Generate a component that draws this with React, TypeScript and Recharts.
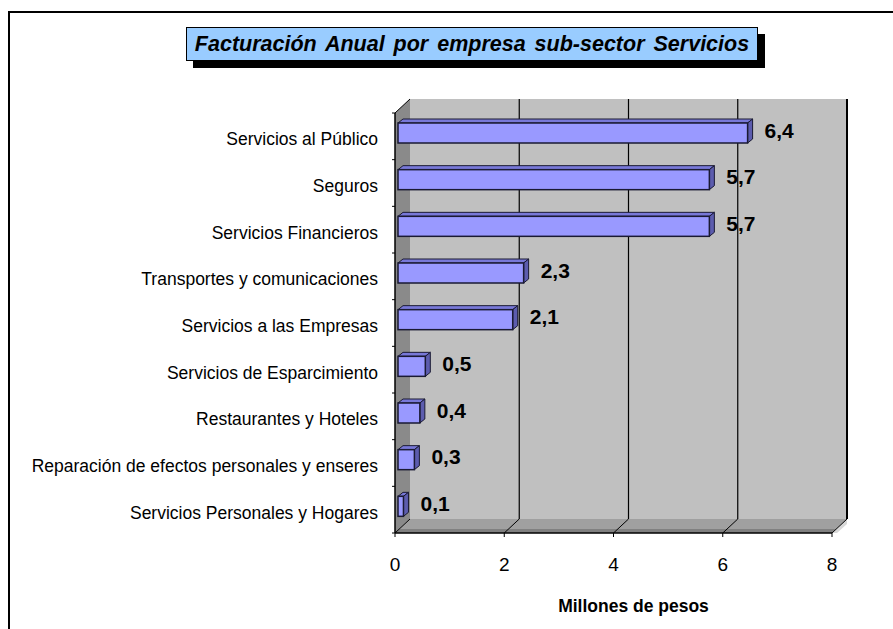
import React from "react";
import {
  BarChart,
  Bar,
  XAxis,
  YAxis,
  CartesianGrid,
  LabelList,
} from "recharts";

const categories = [
  "Servicios al Público",
  "Seguros",
  "Servicios Financieros",
  "Transportes y comunicaciones",
  "Servicios a las Empresas",
  "Servicios de Esparcimiento",
  "Restaurantes y Hoteles",
  "Reparación de efectos personales y enseres",
  "Servicios Personales y Hogares",
];

const facturacion = [6.4, 5.7, 5.7, 2.3, 2.1, 0.5, 0.4, 0.3, 0.1];

const xTicks = [0, 2, 4, 6, 8];

const data = categories.map((name, i) => ({ name, value: facturacion[i] }));

// chart geometry
const W = 883;
const H = 616;
const M = { top: 100, right: 61, bottom: 0, left: 0 };
const Y_W = 385;
const X_H = 96;
const PL = M.left + Y_W;
const PR = W - M.right;
const PT = M.top;
const PB = H - M.bottom - X_H;
// 3d depth of the walls
const DX = 15;
const DY = 14;
// 3d depth of the bars
const BD = 5;
const BDY = 4;

const FONT = "'Liberation Sans', Arial, sans-serif";

function Walls() {
  const band = (PB - PT) / categories.length;
  return (
    <svg width={W} height={H} style={{ position: "absolute", left: 0, top: 0 }}>
      <rect x={PL + DX} y={PT - DY} width={PR - PL} height={PB - PT} fill="#c0c0c0" />
      <polygon
        points={`${PL},${PT} ${PL + DX},${PT - DY} ${PL + DX},${PB - DY} ${PL},${PB}`}
        fill="#8a8a8a"
      />
      <line x1={PL} y1={PT} x2={PL + DX} y2={PT - DY} stroke="#000" />
      <polygon
        points={`${PL},${PB} ${PL + DX},${PB - DY} ${PR + DX},${PB - DY} ${PR},${PB}`}
        fill="#a0a0a0"
      />
      <polygon
        points={`${PL},${PB} ${PL + 4},${PB - 4} ${PR + 4},${PB - 4} ${PR},${PB}`}
        fill="#808080"
      />
      <polygon
        points={`${PR},${PB} ${PR + DX},${PB - DY} ${PR + DX},${PB - DY + 5} ${PR + 5},${PB}`}
        fill="#d8d8d8"
      />
      {categories.map((c, i) => (
        <line
          key={c}
          x1={PL - 3}
          x2={PL}
          y1={PT + i * band}
          y2={PT + i * band}
          stroke="#000"
        />
      ))}
      <line x1={PL - 3} x2={PL} y1={PB} y2={PB} stroke="#000" />
    </svg>
  );
}

function GridLine(props: any) {
  const { x1, y1, y2, index } = props;
  return (
    <g key={`g-${index}`}>
      {index > 0 && (
        <line
          x1={x1 + DX}
          y1={y1 - DY}
          x2={x1 + DX}
          y2={y2 - DY}
          stroke="#000"
          strokeWidth={index === xTicks.length - 1 ? 2 : 1.2}
        />
      )}
      <line x1={x1} y1={y2} x2={x1 + DX} y2={y2 - DY} stroke="#000" strokeWidth={1} />
    </g>
  );
}

function Bar3D(props: any) {
  const { x, y, width, height } = props;
  const fx = x + 3;
  const fy = y - 3;
  const fw = Math.max(width, 0);
  const fh = height;
  return (
    <g>
      <polygon
        points={`${fx},${fy} ${fx + BD},${fy - BDY} ${fx + fw + BD},${fy - BDY} ${fx + fw},${fy}`}
        fill="#7878d8"
        stroke="#1a1a33"
        strokeWidth={1}
      />
      <polygon
        points={`${fx + fw},${fy} ${fx + fw + BD},${fy - BDY} ${fx + fw + BD},${fy + fh - BDY} ${fx + fw},${fy + fh}`}
        fill="#5c5cae"
        stroke="#1a1a33"
        strokeWidth={1}
      />
      <rect x={fx} y={fy} width={fw} height={fh} fill="#9999ff" stroke="#1a1a33" strokeWidth={1.5} />
    </g>
  );
}

function ValueLabel(props: any) {
  const { x, y, width, value } = props;
  return (
    <text
      x={x + width + 20}
      y={y + 4}
      dominantBaseline="central"
      fontFamily={FONT}
      fontWeight="bold"
      fontSize={21}
      fill="#000"
    >
      {Number(value).toFixed(1).replace(".", ",")}
    </text>
  );
}

function CategoryTick(props: any) {
  const { x, y, payload } = props;
  return (
    <text
      x={x}
      y={y + 3}
      textAnchor="end"
      dominantBaseline="central"
      fontFamily={FONT}
      fontSize={17.5}
      fill="#000"
    >
      {payload.value}
    </text>
  );
}

export default function App() {
  return (
    <div
      style={{
        position: "fixed",
        left: 8,
        top: 11,
        width: W + 2,
        height: H + 2,
        borderTop: "2px solid #000",
        borderLeft: "2px solid #000",
        background: "#fff",
        boxSizing: "border-box",
        fontFamily: FONT,
      }}
    >
      <div style={{ position: "relative", width: W, height: H }}>
        <Walls />
        <div style={{ position: "absolute", left: 0, top: 0 }}>
          <BarChart width={W} height={H} data={data} layout="vertical" margin={M}>
            <CartesianGrid horizontal={false} vertical={GridLine} />
            <XAxis
              type="number"
              domain={[0, 8]}
              ticks={xTicks}
              height={X_H}
              axisLine={{ stroke: "#000", strokeWidth: 1.5 }}
              tickLine={{ stroke: "#000" }}
              tickSize={4}
              tickMargin={21}
              tick={{ fill: "#000", fontSize: 19, fontFamily: FONT }}
              label={{
                value: "Millones de pesos",
                position: "insideBottom",
                offset: 17,
                dx: 20,
                style: { fill: "#000", fontSize: 17.5, fontWeight: "bold", fontFamily: FONT },
              }}
            />
            <YAxis
              type="category"
              dataKey="name"
              width={Y_W}
              axisLine={{ stroke: "#000", strokeWidth: 1.5 }}
              tickLine={false}
              tickMargin={11}
              interval={0}
              tick={CategoryTick}
            />
            <Bar dataKey="value" barSize={20} shape={Bar3D} isAnimationActive={false}>
              <LabelList dataKey="value" content={ValueLabel} />
            </Bar>
          </BarChart>
        </div>
        <div
          style={{
            position: "absolute",
            left: 183,
            top: 21,
            width: 572,
            height: 34,
            background: "#000",
          }}
        />
        <div
          style={{
            position: "absolute",
            left: 176,
            top: 14,
            width: 572,
            height: 34,
            boxSizing: "border-box",
            background: "#99ccff",
            border: "1.5px solid #000",
            display: "flex",
            alignItems: "center",
            justifyContent: "center",
            fontWeight: "bold",
            fontStyle: "italic",
            fontSize: 21.5,
            wordSpacing: 3,
            color: "#000",
            whiteSpace: "nowrap",
          }}
        >
          Facturación Anual por empresa sub-sector Servicios
        </div>
      </div>
    </div>
  );
}
